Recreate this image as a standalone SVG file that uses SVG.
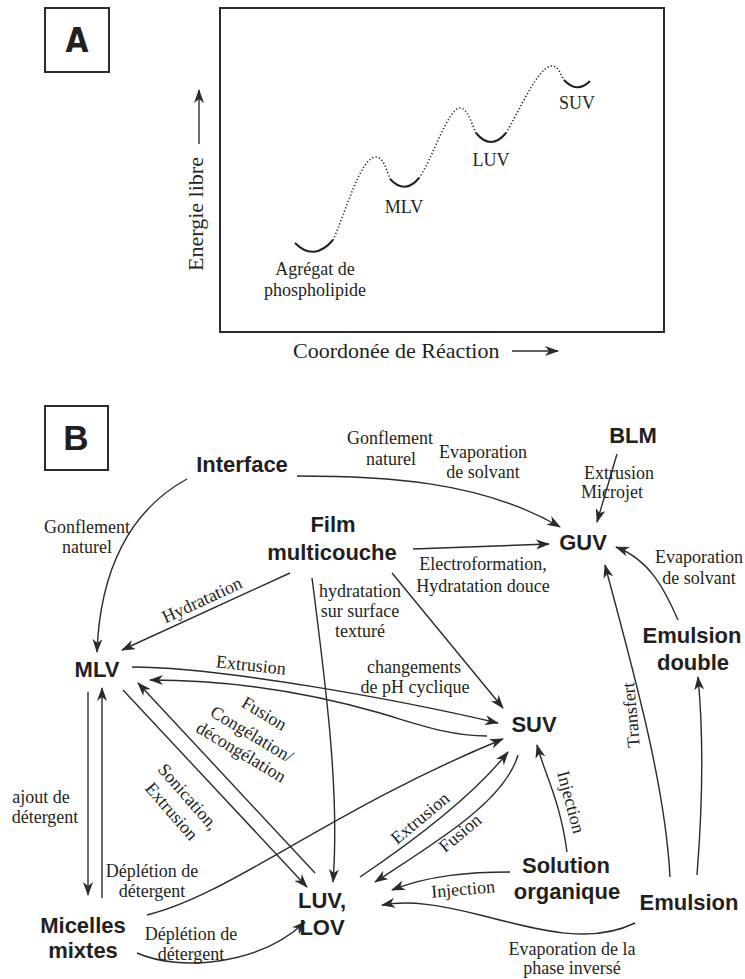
<svg xmlns="http://www.w3.org/2000/svg" width="745" height="979" viewBox="0 0 745 979">
<style>
.bg{fill:#ffffff}
.frame{fill:none;stroke:#2b2b2b;stroke-width:2}
.node{font-family:"Liberation Sans",Arial,sans-serif;font-weight:bold;font-size:22px;fill:#231f20;text-anchor:middle}
.lbl{font-family:"Liberation Serif","Times New Roman",serif;font-size:18px;fill:#231f20;text-anchor:middle}
.axis{font-family:"Liberation Serif","Times New Roman",serif;font-size:22px;fill:#231f20}
.conn{fill:none;stroke:#2b2b2b;stroke-width:1.4}
.well{fill:none;stroke:#231f20;stroke-width:2}
.dot{fill:none;stroke:#231f20;stroke-width:1.6;stroke-dasharray:1.2 2.2}
</style>
<defs>
<marker id="ah" viewBox="0 0 14 10" refX="13" refY="5" markerWidth="14" markerHeight="10" markerUnits="userSpaceOnUse" orient="auto"><path d="M0,0 L14,5 L0,10 L4,5 z" fill="#2b2b2b"/></marker>
</defs>
<rect class="bg" x="0" y="0" width="745" height="979"/>

<!-- Panel A -->
<g id="panelA">
<rect class="frame" x="45" y="8" width="64" height="64" stroke-width="2.5"/>
<text x="77" y="52" font-family="'DejaVu Sans Condensed','Liberation Sans',sans-serif" font-stretch="condensed" font-weight="bold" font-size="33" fill="#231f20" text-anchor="middle">A</text>
<rect class="frame" x="220" y="8" width="444" height="324"/>
<line class="conn" x1="199" y1="144" x2="199" y2="90" stroke-width="1.6" marker-end="url(#ah)"/>
<text class="axis" transform="translate(203,214) rotate(-90)" text-anchor="middle">Energie libre</text>
<text class="axis" x="293" y="358">Coordonée de Réaction</text>
<line class="conn" x1="512" y1="351" x2="558" y2="351" stroke-width="1.6" marker-end="url(#ah)"/>
<path class="well" d="M295,243 Q314,262 333,240"/>
<path class="dot" d="M333,240 C345,215 360,157 376,157 C384,157 387,172 390,179"/>
<path class="well" d="M390,179 Q405,195 419,178"/>
<path class="dot" d="M419,178 C432,160 448,108 460,108 C468,108 472,125 476,133"/>
<path class="well" d="M476,133 Q491,151 506,133"/>
<path class="dot" d="M506,133 C520,110 538,66 552,66 C559,66 561,76 564,80"/>
<path class="well" d="M564,80 Q577,94 590,81"/>
<text class="lbl" x="315" y="275">Agrégat de</text>
<text class="lbl" x="315" y="296">phospholipide</text>
<text class="lbl" x="404" y="213">MLV</text>
<text class="lbl" x="491" y="166">LUV</text>
<text class="lbl" x="577" y="109">SUV</text>
</g>

<!-- Panel B -->
<g id="panelB-label">
<rect class="frame" x="45" y="406" width="63" height="64"/>
<text x="76" y="450" font-family="'Liberation Sans',Arial,sans-serif" font-weight="bold" font-size="35" fill="#231f20" text-anchor="middle">B</text>
</g>

<g id="connectors">
<path class="conn" marker-end="url(#ah)" d="M297,476 C380,476 480,480 560,527"/>
<path class="conn" marker-end="url(#ah)" d="M187,479 C130,510 100,570 97,652"/>
<path class="conn" marker-end="url(#ah)" d="M617,454 L597,522"/>
<path class="conn" marker-end="url(#ah)" d="M413,549 L549,544"/>
<path class="conn" marker-end="url(#ah)" d="M290,573 L122,650"/>
<path class="conn" marker-end="url(#ah)" d="M312,578 C325,680 340,790 333,882"/>
<path class="conn" marker-end="url(#ah)" d="M392,573 L503,708"/>
<path class="conn" marker-end="url(#ah)" d="M132,667 C220,667 400,700 498,723"/>
<path class="conn" marker-end="url(#ah)" d="M487,736 C450,736 420,725 380,713 C300,690 220,680 150,680"/>
<path class="conn" marker-end="url(#ah)" d="M123,690 L307,887"/>
<path class="conn" marker-end="url(#ah)" d="M315,873 L138,683"/>
<path class="conn" marker-end="url(#ah)" d="M88,692 L88,895"/>
<path class="conn" marker-end="url(#ah)" d="M102,898 L102,688"/>
<path class="conn" marker-end="url(#ah)" d="M147,915 C230,895 330,810 503,739"/>
<path class="conn" marker-end="url(#ah)" d="M137,953 C180,972 260,965 305,922"/>
<path class="conn" marker-end="url(#ah)" d="M360,877 C400,850 470,800 508,752"/>
<path class="conn" marker-end="url(#ah)" d="M518,755 C505,800 440,840 375,882"/>
<path class="conn" marker-end="url(#ah)" d="M567,852 C560,800 545,775 537,745"/>
<path class="conn" marker-end="url(#ah)" d="M510,872 C470,872 430,875 392,890"/>
<path class="conn" marker-end="url(#ah)" d="M635,923 C590,945 540,930 480,915 C440,905 410,900 382,905"/>
<path class="conn" marker-end="url(#ah)" d="M670,877 C665,780 630,660 605,565"/>
<path class="conn" marker-end="url(#ah)" d="M697,875 C703,800 704,740 698,677"/>
<path class="conn" marker-end="url(#ah)" d="M678,620 C665,590 650,560 616,547"/>
</g>

<g id="labels">
<text class="lbl" x="390" y="444">Gonflement</text>
<text class="lbl" x="391" y="465">naturel</text>
<text class="lbl" x="483" y="458">Evaporation</text>
<text class="lbl" x="483" y="478">de solvant</text>
<text class="lbl" x="619" y="479" text-anchor="start">Extrusion</text>
<text class="lbl" x="612" y="498" text-anchor="start">Microjet</text>
<text class="lbl" x="87" y="533">Gonflement</text>
<text class="lbl" x="87" y="553">naturel</text>
<text class="lbl" transform="translate(202,600) rotate(-25)" y="6">Hydratation</text>
<text class="lbl" x="483" y="570">Electroformation,</text>
<text class="lbl" x="483" y="592">Hydratation douce</text>
<text class="lbl" x="360" y="597">hydratation</text>
<text class="lbl" x="360" y="617">sur surface</text>
<text class="lbl" x="360" y="637">texturé</text>
<text class="lbl" x="699" y="563">Evaporation</text>
<text class="lbl" x="699" y="584">de solvant</text>
<text class="lbl" transform="translate(251,665) rotate(6)" y="6">Extrusion</text>
<text class="lbl" x="414" y="673">changements</text>
<text class="lbl" x="415" y="693">de pH cyclique</text>
<text class="lbl" transform="translate(631,715) rotate(-95)" y="6">Transfert</text>
<g transform="translate(252,734) rotate(31)">
<text class="lbl" y="-18">Fusion</text>
<text class="lbl" y="6">Congélation/</text>
<text class="lbl" y="27">décongélation</text>
</g>
<g transform="translate(180,804) rotate(49)">
<text class="lbl" y="-5">Sonication,</text>
<text class="lbl" y="17">Extrusion</text>
</g>
<text class="lbl" x="41" y="803">ajout de</text>
<text class="lbl" x="45" y="823">détergent</text>
<text class="lbl" x="152" y="877">Déplétion de</text>
<text class="lbl" x="152" y="897">détergent</text>
<text class="lbl" transform="translate(420,818) rotate(-40)" y="6">Extrusion</text>
<text class="lbl" transform="translate(460,833) rotate(-40)" y="6">Fusion</text>
<text class="lbl" transform="translate(571,802) rotate(75)" y="6">Injection</text>
<text class="lbl" transform="translate(463,889) rotate(-5)" y="6">Injection</text>
<text class="lbl" x="191" y="940">Déplétion de</text>
<text class="lbl" x="191" y="960">détergent</text>
<text class="lbl" x="572" y="955">Evaporation de la</text>
<text class="lbl" x="572" y="974">phase inversé</text>
</g>

<g id="node-interface"><text class="node" x="242" y="472">Interface</text></g>
<g id="node-blm"><text class="node" x="633" y="443">BLM</text></g>
<g id="node-film"><text class="node" x="333" y="532">Film</text><text class="node" x="332" y="560">multicouche</text></g>
<g id="node-guv"><text class="node" x="583" y="550">GUV</text></g>
<g id="node-emulsion-double"><text class="node" x="692" y="643">Emulsion</text><text class="node" x="693" y="670">double</text></g>
<g id="node-mlv"><text class="node" x="97" y="677">MLV</text></g>
<g id="node-suv"><text class="node" x="534" y="732">SUV</text></g>
<g id="node-solution"><text class="node" x="566" y="873">Solution</text><text class="node" x="567" y="899">organique</text></g>
<g id="node-emulsion"><text class="node" x="689" y="910">Emulsion</text></g>
<g id="node-luv"><text class="node" x="322" y="908" text-anchor="start">LUV,</text><text class="node" x="322" y="935" text-anchor="start">LOV</text></g>
<g id="node-micelles"><text class="node" x="83" y="933">Micelles</text><text class="node" x="83" y="958">mixtes</text></g>
</svg>
